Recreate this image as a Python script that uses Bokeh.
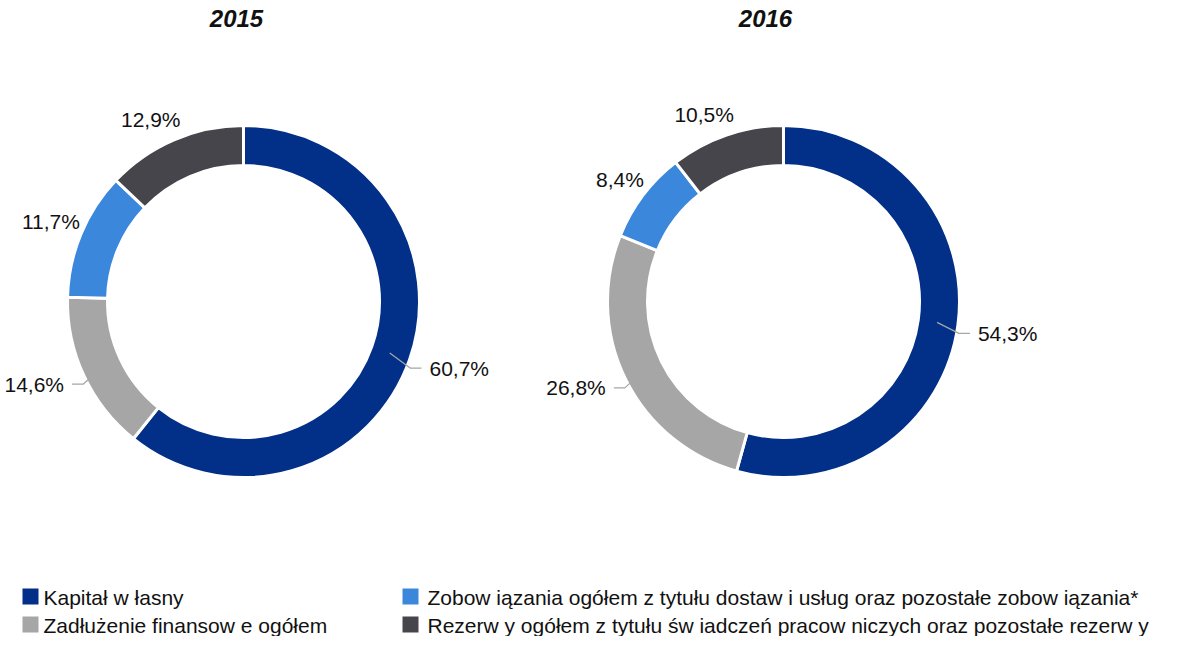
import numpy as np
from bokeh.plotting import figure
from bokeh.models import Range1d, ColumnDataSource
from bokeh.core.properties import value
from bokeh.embed import file_html
from bokeh.resources import INLINE

# ---------------- data ----------------
years = ["2015", "2016"]
categories = [
    "Kapitał w łasny",
    "Zadłużenie finansow e ogółem",
    "Zobow iązania ogółem z tytułu dostaw  i usług oraz pozostałe zobow iązania*",
    "Rezerw y ogółem z tytułu św iadczeń pracow niczych oraz pozostałe rezerw y",
]
values_2015 = [60.7, 14.6, 11.7, 12.9]
values_2016 = [54.3, 26.8, 8.4, 10.5]
colors = ["#022F87", "#A6A6A6", "#3A87DC", "#46454B"]

# ---------------- layout ----------------
W, H = 1162, 636
FONT = "Liberation Sans"


def Y(py):
    # reference pixel row -> data y
    return 652 - py


p = figure(width=W, height=H, output_backend="svg", toolbar_location=None,
           x_range=Range1d(0, W), y_range=Range1d(12, 12 + H),
           min_border=0, border_fill_color="white", background_fill_color="white")
p.axis.visible = False
p.grid.visible = False
p.outline_line_color = None

centers_x = [243, 783]
center_py = 305
R_OUT, R_IN = 176, 136
title_x = [236, 765]

for k, vals in enumerate([values_2015, values_2016]):
    vals = np.array(vals, dtype=float)
    frac = vals / vals.sum()
    cum = np.concatenate([[0], np.cumsum(frac)])
    start = np.pi / 2 - 2 * np.pi * cum[:-1]
    end = np.pi / 2 - 2 * np.pi * cum[1:]
    cx, cy = centers_x[k], Y(center_py)
    src = ColumnDataSource(dict(start=start, end=end, color=colors,
                                x=[cx] * len(vals), y=[cy] * len(vals)))
    p.annular_wedge(x="x", y="y", inner_radius=R_IN, outer_radius=R_OUT,
                    inner_radius_units="screen", outer_radius_units="screen",
                    start_angle="start", end_angle="end", direction="clock",
                    fill_color="color", line_color="white", line_width=3, source=src)

    mid = (start + end) / 2
    lx, ly, la, ltxt = [], [], [], []
    for v, a in zip(vals, mid):
        dx, dy = np.cos(a), np.sin(a)
        side = 1 if dx >= 0 else -1
        txt = f"{v:.1f}".replace(".", ",") + "%"
        if v >= 13.5:
            p1 = (cx + 155 * dx, cy + 155 * dy)
            p2 = (cx + 177 * dx, cy + 177 * dy - 8)
            p3 = (p2[0] + side * 11, p2[1])
            p.line([p1[0], p2[0], p3[0]], [p1[1], p2[1], p3[1]],
                   line_color="#A6A6A6", line_width=1.3)
            lx.append(p3[0] + side * 8)
            ly.append(p3[1])
        else:
            lx.append(cx + 190 * dx + 12)
            ly.append(cy + 190 * dy + 7)
        la.append("left" if side > 0 else "right")
        ltxt.append(txt)
    p.text(x=lx, y=ly, text=ltxt, text_align=la, text_baseline="middle",
           text_font=value(FONT), text_font_size="21px", text_color="#111111")

    p.text(x=[title_x[k]], y=[Y(22)], text=[years[k]], text_align="center",
           text_baseline="middle", text_font=value(FONT), text_font_size="24px",
           text_font_style="bold italic", text_color="#111111")

# ---------------- legend ----------------
sq_x = [30, 410]
txt_x = [43, 427]
row_py = [600, 628]
lgx, lgy, tgx, tgy = [], [], [], []
for i, cat in enumerate(categories):
    col, row = i // 2, i % 2
    lgx.append(sq_x[col]); lgy.append(Y(row_py[row]))
    tgx.append(txt_x[col]); tgy.append(Y(row_py[row] + 1))
p.rect(x=lgx, y=lgy, width=16, height=16, width_units="screen", height_units="screen",
       fill_color=colors, line_color=None)
p.text(x=tgx, y=tgy, text=categories, text_align="left", text_baseline="middle",
       text_font=value(FONT), text_font_size="21px", text_color="#111111")

open("out.html", "w").write(file_html(p, INLINE))
